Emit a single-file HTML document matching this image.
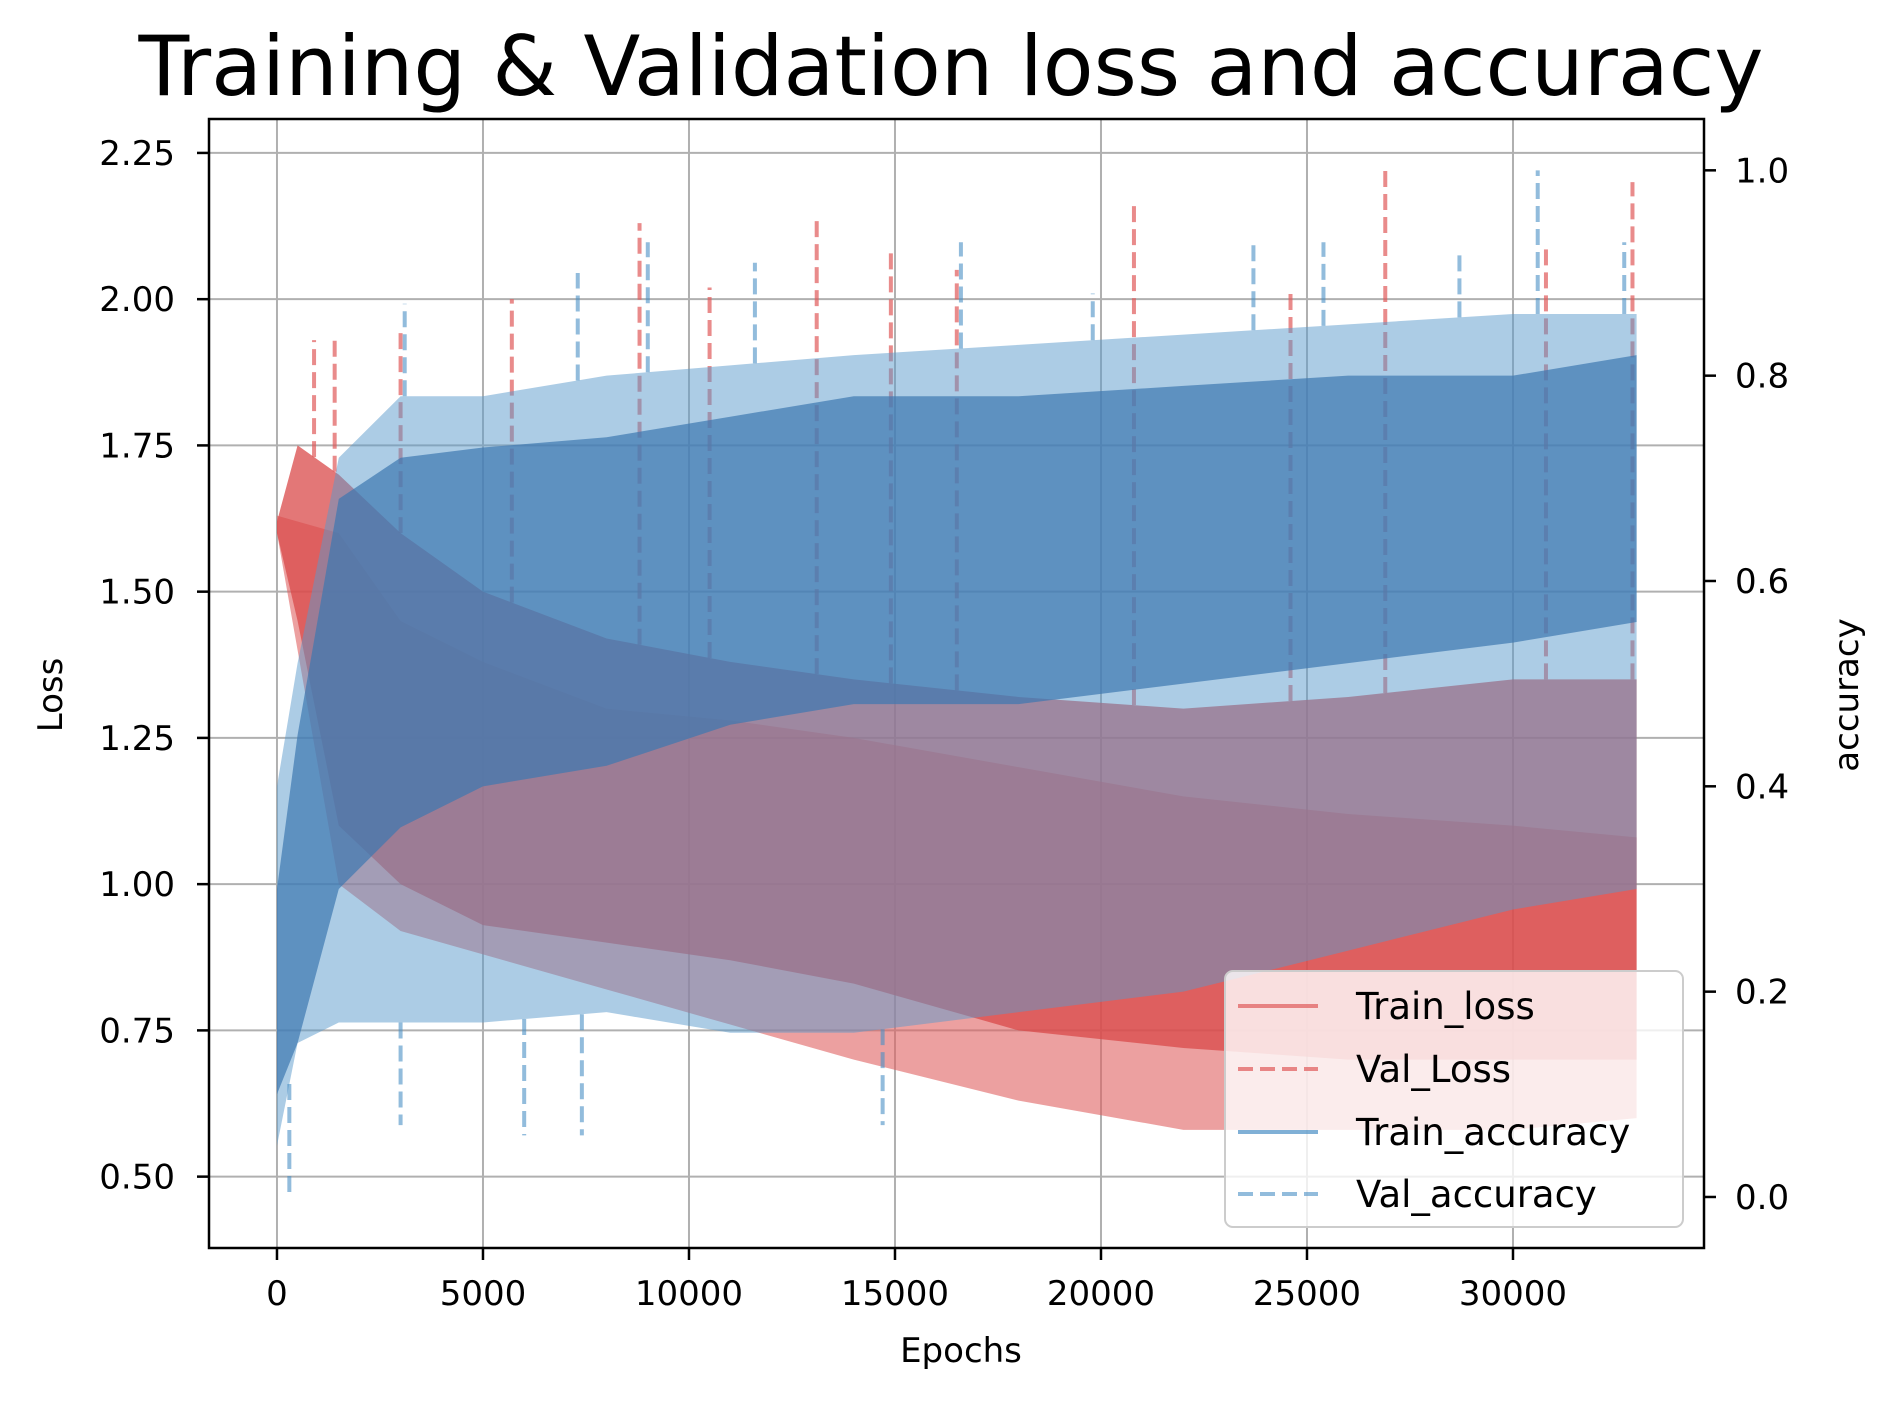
<!DOCTYPE html>
<html><head><meta charset="utf-8">
<style>
html,body{margin:0;padding:0;background:#fff;}
svg{display:block;font-family:"DejaVu Sans","Liberation Sans",sans-serif;}
</style></head>
<body>
<svg id="chart" width="1886" height="1404" viewBox="0 0 1886 1404" xmlns="http://www.w3.org/2000/svg">
<text x="951" y="95" font-size="83" text-anchor="middle">Training &amp; Validation loss and accuracy</text>
<g id="grid"></g>
<g id="marks"></g>
<rect x="209" y="119" width="1495" height="1129" fill="none" stroke="#000" stroke-width="2.5"/>
<g id="axes"></g>
<text x="961" y="1362" font-size="34" text-anchor="middle">Epochs</text>
<text transform="translate(62,695) rotate(-90)" font-size="34" text-anchor="middle">Loss</text>
<text transform="translate(1858,695) rotate(-90)" font-size="34" text-anchor="middle">accuracy</text>
<g>
<rect x="1225" y="971" width="458" height="256" rx="8" fill="#fff" fill-opacity="0.8" stroke="#ccc" stroke-width="2"/>
<g><line x1="1238" y1="1006" x2="1318" y2="1006" stroke="#e05a5a" stroke-opacity="0.7" stroke-width="4"/><text x="1356" y="1019" font-size="37">Train_loss</text></g>
<g><line x1="1238" y1="1069" x2="1318" y2="1069" stroke="#e05a5a" stroke-opacity="0.7" stroke-width="4" stroke-dasharray="15,7"/><text x="1356" y="1082" font-size="37">Val_Loss</text></g>
<g><line x1="1238" y1="1132" x2="1318" y2="1132" stroke="#4a8fc4" stroke-opacity="0.7" stroke-width="4"/><text x="1356" y="1145" font-size="37">Train_accuracy</text></g>
<g><line x1="1238" y1="1194" x2="1318" y2="1194" stroke="#4a8fc4" stroke-opacity="0.6" stroke-width="4" stroke-dasharray="15,7"/><text x="1356" y="1207" font-size="37">Val_accuracy</text></g>
</g>
</svg>
<script>
const epochs = [0,500,1500,3000,5000,8000,11000,14000,18000,22000,26000,30000,33000];
const trainLossHi = [1.63,1.62,1.60,1.45,1.38,1.30,1.28,1.25,1.20,1.15,1.12,1.10,1.08];
const trainLossLo = [1.60,1.40,1.00,0.92,0.88,0.82,0.76,0.70,0.63,0.58,0.58,0.58,0.60];
const valLossHi = [1.62,1.75,1.70,1.60,1.50,1.42,1.38,1.35,1.32,1.30,1.32,1.35,1.35];
const valLossLo = [1.60,1.45,1.10,1.00,0.93,0.90,0.87,0.83,0.75,0.72,0.70,0.70,0.70];
const trainAccHi = [0.30,0.45,0.68,0.72,0.73,0.74,0.76,0.78,0.78,0.79,0.80,0.80,0.82];
const trainAccLo = [0.10,0.15,0.30,0.36,0.40,0.42,0.46,0.48,0.48,0.50,0.52,0.54,0.56];
const valAccHi = [0.40,0.52,0.72,0.78,0.78,0.80,0.81,0.82,0.83,0.84,0.85,0.86,0.86];
const valAccLo = [0.05,0.15,0.17,0.17,0.17,0.18,0.16,0.16,0.18,0.20,0.24,0.28,0.30];
const lossSpikeX = [900,1400,3000,5700,8800,10500,13100,14900,16500,20800,24600,26900,30800,32900];
const lossSpikeY = [1.93,1.94,1.95,2.00,2.13,2.02,2.14,2.08,2.05,2.17,2.02,2.22,2.09,2.20];
const accSpikeX = [3100,7300,9000,11600,16600,19800,23700,25400,28700,30600,32700];
const accSpikeY = [0.87,0.90,0.93,0.91,0.93,0.88,0.93,0.93,0.92,1.00,0.93];
const accLowX = [300,3000,6000,7400,14700];
const accLowY = [0.00,0.07,0.06,0.06,0.07];
const xTicks = [0,5000,10000,15000,20000,25000,30000];
const yTicks = [0.50,0.75,1.00,1.25,1.50,1.75,2.00,2.25];
const y2Ticks = [0.0,0.2,0.4,0.6,0.8,1.0];

const L=209,R=1704,T=119,B=1248;
const xmin=-1650,xmax=34636,ymin=0.378,ymax=2.308,y2min=-0.0497,y2max=1.05;
const sx=v=>L+(v-xmin)/(xmax-xmin)*(R-L);
const sy=v=>B-(v-ymin)/(ymax-ymin)*(B-T);
const sy2=v=>B-(v-y2min)/(y2max-y2min)*(B-T);
const NS='http://www.w3.org/2000/svg';
function mk(tag,attrs,parent){const e=document.createElementNS(NS,tag);for(const k in attrs)e.setAttribute(k,attrs[k]);parent.appendChild(e);return e;}
const grid=document.getElementById('grid'),marks=document.getElementById('marks'),axes=document.getElementById('axes');

xTicks.forEach(t=>{
  const g=mk('line',{x1:sx(t),x2:sx(t),y1:T,y2:B,stroke:'#b0b0b0','stroke-width':2},grid);
  
  
  const k=mk('line',{x1:sx(t),x2:sx(t),y1:B,y2:B+12,stroke:'#000','stroke-width':2.5},axes);
  
  
  const tx=mk('text',{x:sx(t),y:B+57,'font-size':34,'text-anchor':'middle'},axes);
  tx.textContent=String(t);
  
  
});
yTicks.forEach(t=>{
  const g=mk('line',{x1:L,x2:R,y1:sy(t),y2:sy(t),stroke:'#b0b0b0','stroke-width':2},grid);
  
  
  const k=mk('line',{x1:L-12,x2:L,y1:sy(t),y2:sy(t),stroke:'#000','stroke-width':2.5},axes);
  
  
  const tx=mk('text',{x:L-34,y:sy(t)+12,'font-size':34,'text-anchor':'end'},axes);
  tx.textContent=t.toFixed(2);
  
  
});
y2Ticks.forEach(t=>{
  const k=mk('line',{x1:R,x2:R+12,y1:sy2(t),y2:sy2(t),stroke:'#000','stroke-width':2.5},axes);
  
  
  const tx=mk('text',{x:R+31,y:sy2(t)+12,'font-size':34},axes);
  tx.textContent=t.toFixed(1);
  
  
});

function band(hi,lo,ys,color,op,name){
  let pts=epochs.map((e,i)=>sx(e)+','+ys(hi[i]));
  for(let i=epochs.length-1;i>=0;i--)pts.push(sx(epochs[i])+','+ys(lo[i]));
  const p=mk('polygon',{points:pts.join(' '),fill:color,'fill-opacity':op},marks);
  
  
}
function spikes(xs,vs,baseArr,ys,color,op,name){
  xs.forEach((x,i)=>{
    let j=0;while(j<epochs.length-2&&epochs[j+1]<x)j++;
    const f=(x-epochs[j])/(epochs[j+1]-epochs[j]);
    const b=baseArr[j]+(baseArr[j+1]-baseArr[j])*f;
    const l=mk('line',{x1:sx(x),x2:sx(x),y1:ys(b),y2:ys(vs[i]),stroke:color,'stroke-opacity':op,'stroke-width':4,'stroke-dasharray':'16,7'},marks);
    
    
  });
}
band(trainLossHi,trainLossLo,sy,'#e06060',0.6,'train-loss-band');
band(valLossHi,valLossLo,sy,'#d94a4a',0.75,'val-loss-band');
spikes(lossSpikeX,lossSpikeY,valLossHi,sy,'#e05a5a',0.7,'val-loss-spike');
band(valAccHi,valAccLo,sy2,'#5a9acb',0.5,'val-accuracy-band');
band(trainAccHi,trainAccLo,sy2,'#3d78b0',0.7,'train-accuracy-band');
spikes(accSpikeX,accSpikeY,valAccHi,sy2,'#4a8fc4',0.6,'val-accuracy-spike');
spikes(accLowX,accLowY,valAccLo,sy2,'#4a8fc4',0.6,'val-accuracy-low-spike');
</script>
</body></html>
